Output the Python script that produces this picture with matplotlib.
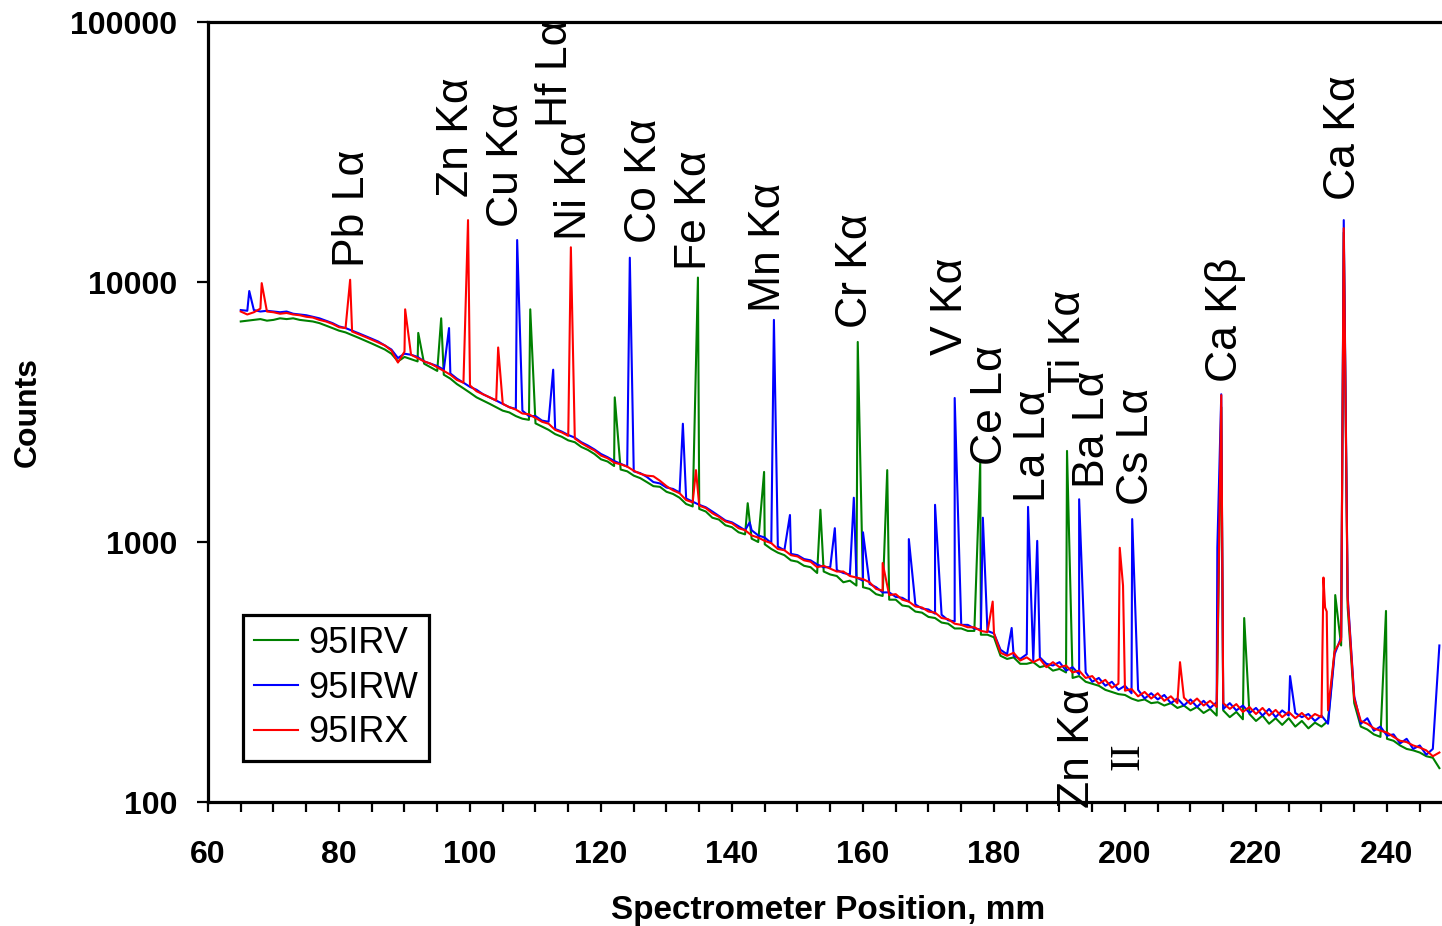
import numpy as np
import matplotlib
matplotlib.use("Agg")
import matplotlib.pyplot as plt
from matplotlib.ticker import FixedLocator, MultipleLocator, NullLocator

# ---------------- data ----------------
grid_start, grid_stop = 65, 248  # spectrometer positions (mm), 1 mm steps

red_base = [
    7700, 7500, 7650, 7900, 7700, 7650, 7550, 7600, 7500, 7450,
    7350, 7300, 7150, 7050, 6900, 6700, 6650, 6450, 6300, 6150,
    6000, 5850, 5700, 5450, 4900, 5400, 5250, 5100, 4950, 4850,
    4700, 4550, 4400, 4200, 4100, 4000, 3800, 3700, 3600, 3500,
    3400, 3300, 3230, 3120, 3100, 3000, 2900, 2850, 2700, 2640,
    2560, 2500, 2400, 2320, 2250, 2150, 2100, 2020, 1990, 1950,
    1880, 1830, 1800, 1790, 1720, 1640, 1580, 1540, 1450, 1420,
    1380, 1350, 1290, 1250, 1200, 1180, 1130, 1110, 1060, 1040,
    1010, 990, 940, 930, 890, 880, 850, 840, 800, 810,
    790, 770, 770, 740, 730, 720, 700, 660, 650, 625,
    630, 600, 590, 565, 560, 540, 535, 510, 505, 485,
    480, 470, 470, 455, 450, 445, 375, 365, 375, 350,
    360, 345, 355, 330, 345, 330, 335, 315, 320, 300,
    305, 285, 295, 275, 285, 268, 272, 255, 265, 250,
    262, 245, 255, 240, 252, 238, 250, 235, 245, 232,
    240, 228, 238, 222, 232, 218, 230, 215, 226, 212,
    222, 210, 220, 208, 218, 212, 225, 380, 420, 600,
    250, 205, 200, 192, 188, 185, 178, 172, 170, 165,
    162, 158, 150, 155]

blue_base = [
    7800, 7750, 7800, 7700, 7750, 7700, 7650, 7700, 7550, 7500,
    7450, 7350, 7250, 7100, 6950, 6750, 6650, 6500, 6350, 6200,
    6050, 5900, 5700, 5500, 5100, 5300, 5250, 5150, 4950, 4850,
    4750, 4600, 4450, 4250, 4100, 3950, 3850, 3700, 3600, 3500,
    3400, 3300, 3250, 3200, 3050, 3050, 2930, 2900, 2720, 2660,
    2580, 2520, 2420, 2350, 2270, 2180, 2120, 2050, 2000, 1950,
    1870, 1840, 1780, 1700, 1680, 1620, 1600, 1550, 1470, 1430,
    1390, 1360, 1310, 1260, 1210, 1190, 1150, 1110, 1110, 1060,
    1040, 990, 960, 930, 900, 890, 860, 850, 820, 800,
    800, 780, 760, 750, 730, 710, 690, 670, 640, 640,
    615, 610, 590, 575, 555, 550, 530, 525, 500, 495,
    480, 480, 465, 460, 455, 445, 385, 370, 365, 355,
    370, 350, 360, 340, 335, 345, 320, 330, 310, 315,
    290, 300, 280, 290, 270, 280, 262, 270, 250, 262,
    248, 258, 240, 250, 235, 248, 232, 245, 230, 242,
    228, 240, 225, 235, 220, 230, 215, 228, 212, 225,
    215, 220, 212, 218, 205, 215, 200, 370, 430, 620,
    255, 200, 210, 188, 195, 180, 182, 168, 175, 160,
    165, 152, 160, 400]

green_base = [
    7050, 7100, 7150, 7200, 7100, 7150, 7250, 7200, 7250, 7150,
    7100, 7050, 6950, 6800, 6650, 6500, 6400, 6250, 6100, 5950,
    5800, 5650, 5500, 5300, 4950, 5150, 5050, 4950, 4850, 4700,
    4550, 4400, 4250, 4050, 3900, 3750, 3600, 3500, 3400, 3300,
    3200, 3150, 3050, 2980, 2950, 2860, 2780, 2700, 2600, 2540,
    2460, 2420, 2320, 2260, 2180, 2080, 2040, 1960, 1900, 1870,
    1800, 1760, 1700, 1640, 1630, 1560, 1530, 1480, 1400, 1370,
    1340, 1310, 1240, 1220, 1160, 1140, 1090, 1070, 1030, 1000,
    980, 940, 910, 890, 850, 840, 810, 800, 760, 770,
    750, 740, 700, 710, 680, 670, 660, 630, 620, 600,
    600, 570, 565, 540, 535, 515, 510, 490, 485, 465,
    465, 455, 455, 440, 440, 430, 365, 355, 360, 340,
    340, 345, 330, 335, 320, 325, 315, 300, 305, 290,
    285, 280, 270, 265, 260, 258, 250, 245, 248, 240,
    242, 235, 240, 230, 235, 225, 232, 220, 228, 215,
    225, 212, 222, 208, 218, 205, 215, 200, 210, 198,
    210, 195, 205, 192, 202, 195, 205, 380, 400, 560,
    240, 195, 190, 182, 178, 175, 172, 165, 160, 158,
    155, 150, 148, 135]

# peak maxima (position mm, counts)
red_peak_x = [68.2, 81.7, 90.1, 99.7, 104.3, 115.4, 134.5, 163.0, 179.8, 199.2,
              199.7, 208.4, 214.7, 230.3, 230.55, 230.8, 233.4]
red_peak_y = [9900, 10200, 7850, 17300, 5600, 13600, 1890, 830, 590, 950,
              680, 345, 3670, 730, 560, 540, 16100]

blue_peak_x = [66.3, 96.8, 107.2, 112.7, 124.4, 132.5, 142.7, 146.4, 148.85,
               155.7, 158.6, 160.0, 167.0, 171.0, 174.0, 178.3, 182.7, 185.2,
               186.6, 193.0, 201.1, 214.1, 214.7, 225.2, 233.4]
blue_peak_y = [9230, 6650, 14500, 4600, 12400, 2850, 1190, 7150, 1270,
               1130, 1480, 1090, 1026, 1390, 3580, 1240, 467, 1365,
               1010, 1460, 1225, 950, 3700, 305, 17300]

green_peak_x = [92.1, 95.6, 109.2, 122.1, 134.8, 142.4, 144.9, 153.5, 159.2,
                163.7, 177.9, 191.15, 214.7, 218.2, 232.1, 233.4, 239.85]
green_peak_y = [6370, 7250, 7850, 3600, 10400, 1410, 1860, 1330, 5880,
                1890, 2020, 2240, 3300, 510, 625, 15500, 543]

series_names = ["95IRV", "95IRW", "95IRX"]
series_colors = ["#008000", "#0000FF", "#FF0000"]

# peak labels: text, position (mm), counts at label base
label_text = ["Pb L\u03b1", "Zn K\u03b1", "Cu K\u03b1", "Hf L\u03b1", "Ni K\u03b1",
              "Co K\u03b1", "Fe K\u03b1", "Mn K\u03b1", "Cr K\u03b1", "V K\u03b1",
              "Ce L\u03b1", "La L\u03b1", "Ti K\u03b1", "Ba L\u03b1", "Cs L\u03b1",
              "Ca K\u03b2", "Ca K\u03b1", "Zn K\u03b1"]
label_x = [82.1, 98.0, 105.5, 113.0, 116.0, 126.7, 134.2, 145.6, 158.9, 173.3,
           179.4, 186.1, 191.3, 195.0, 201.8, 215.4, 233.3, 192.8]
label_y = [11430, 21230, 16270, 39460, 14500, 14130, 11120, 7670, 6650, 5240,
           1977, 1425, 3740, 1614, 1387, 4125, 20650, 95]
order_text, order_x, order_y = "II", 200.5, 132.7

# ---------------- plotting ----------------
plt.rcParams["font.family"] = ["Liberation Sans", "DejaVu Sans"]

fig = plt.figure(figsize=(14.42, 9.26), dpi=100)
ax = fig.add_axes([208 / 1442, 1 - 802 / 926, 1 - 208 / 1442, (802 - 22) / 926])

grid = np.arange(grid_start, grid_stop + 1, dtype=float)


def build(base, px, py):
    x = np.concatenate([grid, np.asarray(px, float)])
    y = np.concatenate([np.asarray(base, float), np.asarray(py, float)])
    o = np.argsort(x, kind="stable")
    return x[o], y[o]


data = [build(green_base, green_peak_x, green_peak_y),
        build(blue_base, blue_peak_x, blue_peak_y),
        build(red_base, red_peak_x, red_peak_y)]

for (x, y), name, col in zip(data, series_names, series_colors):
    ax.plot(x, y, color=col, lw=1.5, label=name)

ax.set_yscale("log")
ax.set_ylim(100, 100000)
ax.set_xlim(60, 248.4)

ax.yaxis.set_major_locator(FixedLocator([100, 1000, 10000, 100000]))
ax.yaxis.set_minor_locator(NullLocator())
ax.set_yticklabels(["100", "1000", "10000", "100000"])
ax.xaxis.set_major_locator(MultipleLocator(20))
ax.xaxis.set_minor_locator(MultipleLocator(5))

for lab in ax.get_xticklabels() + ax.get_yticklabels():
    lab.set_fontweight("bold")
ax.tick_params(axis="both", which="both", direction="out", width=1.6, color="black")
ax.tick_params(axis="x", which="both", length=7.5, labelsize=23, pad=20)
ax.tick_params(axis="y", which="major", length=8, labelsize=23, pad=14)

for s in ["left", "bottom", "top"]:
    ax.spines[s].set_linewidth(2.3)
ax.spines["right"].set_visible(False)

for t, x, y in zip(label_text, label_x, label_y):
    ax.text(x, y, t, rotation=90, ha="center", va="bottom", fontsize=32,
            clip_on=False, family=["Liberation Sans", "DejaVu Sans"])
ax.text(order_x, order_y, order_text, rotation=90, ha="center", va="bottom",
        fontsize=30, family="Liberation Serif", clip_on=False)

fig.text(28 / 1442, 1 - 412 / 926, "Counts", rotation=90, ha="center", va="center",
         fontsize=23, fontweight="bold")
fig.text(828 / 1442, 1 - 910 / 926, "Spectrometer Position, mm", ha="center",
         va="center", fontsize=24, fontweight="bold")

leg = ax.legend(loc="upper left", bbox_to_anchor=(243 / 1442, 1 - 615 / 926),
                bbox_transform=fig.transFigure, borderaxespad=0, fontsize=26,
                frameon=True, fancybox=False, handlelength=1.22, handletextpad=0.3,
                labelspacing=0.27, borderpad=0.3)
leg.get_frame().set_edgecolor("black")
leg.get_frame().set_linewidth(2.3)
leg.get_frame().set_alpha(1)

fig.savefig("out.png", dpi=100)
